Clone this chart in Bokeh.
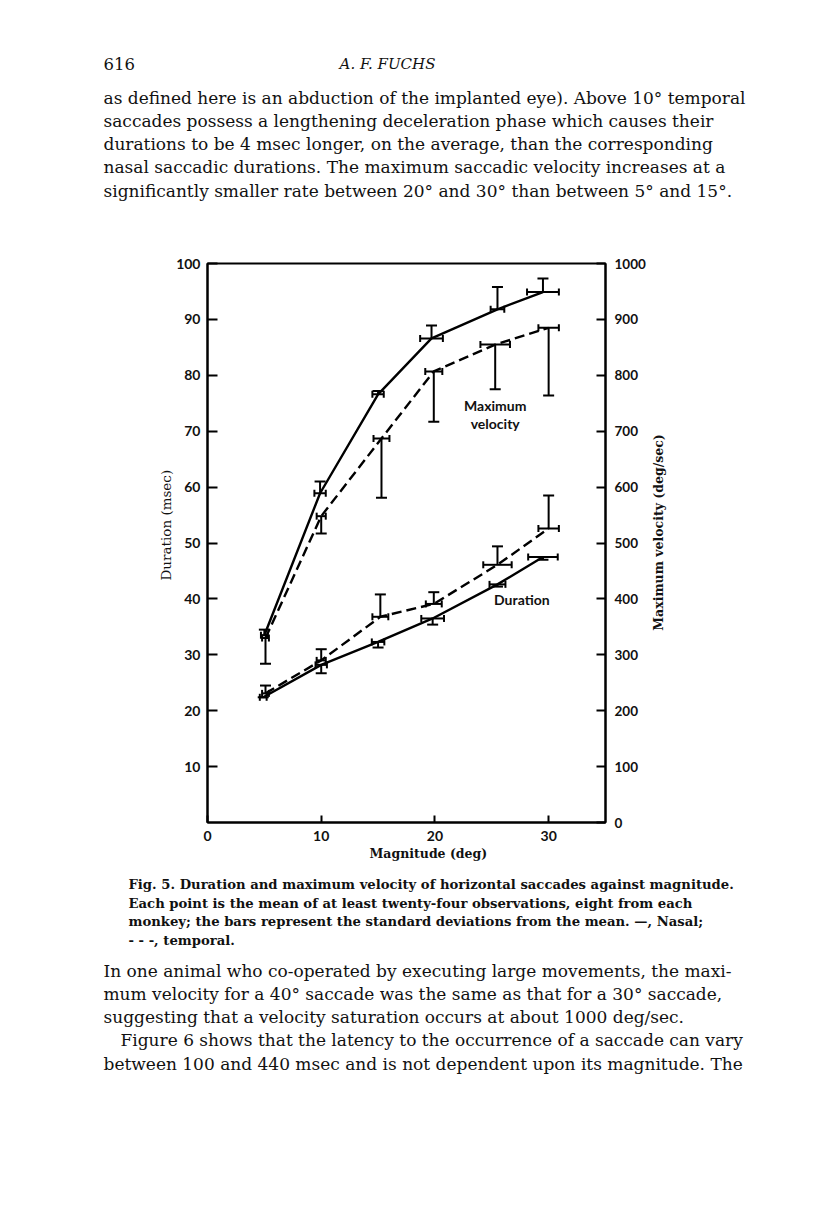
import math
from bokeh.plotting import figure
from bokeh.models import LinearAxis, Range1d, FixedTicker, Title, ColumnDataSource
from bokeh.layouts import column, row
from bokeh.core.properties import value
from bokeh.embed import file_html
from bokeh.resources import INLINE

# ---------------- data ----------------
# Maximum velocity (deg/sec): nasal (solid) and temporal (dashed)
vel_nasal_x = [5.0, 9.9, 15.0, 19.7, 25.5, 29.5]
vel_nasal = [335, 589, 766, 866, 918, 949]
vel_nasal_sd_end = [345, 610, 772, 889, 958, 973]
vel_nasal_xsd = [0.3, 0.5, 0.5, 1.0, 0.6, 1.4]

vel_temp_x = [5.1, 10.0, 15.3, 19.9, 25.3, 30.0]
vel_temp = [330, 548, 687, 807, 855, 885]
vel_temp_sd_end = [284, 517, 581, 717, 775, 764]
vel_temp_xsd = [0.3, 0.4, 0.7, 0.75, 1.3, 0.9]

# Duration (msec): nasal (solid) and temporal (dashed)
dur_nasal_x = [4.9, 10.0, 15.0, 19.8, 25.5, 29.5]
dur_nasal = [22.4, 28.2, 32.3, 36.5, 42.6, 47.5]
dur_nasal_sd_end = [22.4, 26.7, 31.3, 35.4, 42.2, 47.0]
dur_nasal_xsd = [0.3, 0.5, 0.55, 1.0, 0.7, 1.3]

dur_temp_x = [5.1, 10.0, 15.2, 19.9, 25.5, 30.0]
dur_temp = [23.1, 29.0, 36.8, 39.1, 46.1, 52.6]
dur_temp_sd_end = [24.5, 31.0, 40.8, 41.2, 49.4, 58.5]
dur_temp_xsd = [0.3, 0.4, 0.7, 0.7, 1.25, 0.9]

left_ticks = [10, 20, 30, 40, 50, 60, 70, 80, 90, 100]
right_ticks = [0, 100, 200, 300, 400, 500, 600, 700, 800, 900, 1000]
x_ticks = [0, 10, 20, 30]

header_page = "616"
header_author = "A. F. FUCHS"
body1 = [
    "as defined here is an abduction of the implanted eye). Above 10° temporal",
    "saccades possess a lengthening deceleration phase which causes their",
    "durations to be 4 msec longer, on the average, than the corresponding",
    "nasal saccadic durations. The maximum saccadic velocity increases at a",
    "significantly smaller rate between 20° and 30° than between 5° and 15°.",
]
caption = [
    "Fig. 5. Duration and maximum velocity of horizontal saccades against magnitude.",
    "Each point is the mean of at least twenty-four observations, eight from each",
    "monkey; the bars represent the standard deviations from the mean. —, Nasal;",
    "- - -, temporal.",
]
body2 = [
    "In one animal who co-operated by executing large movements, the maxi-",
    "mum velocity for a 40° saccade was the same as that for a 30° saccade,",
    "suggesting that a velocity saturation occurs at about 1000 deg/sec.",
    "Figure 6 shows that the latency to the occurrence of a saccade can vary",
    "between 100 and 440 msec and is not dependent upon its magnitude. The",
]

# ---------------- layout geometry (picture pixels) ----------------
W = 816
TOP_H = 240
CHART_TOP, CHART_BOT = 240, 872
CHART_W = 648
BOT_H = 1213 - CHART_BOT
FL, FT, FR, FB = 207, 263, 606, 822
SERIF = "DejaVu Serif"
SANS = "Lato"
INK = "#111111"


def text_panel(width, height, x0, y0):
    f = figure(width=width, height=height, x_range=Range1d(x0, x0 + width),
               y_range=Range1d(y0 + height, y0),
               output_backend="svg", toolbar_location=None, min_border=0,
               x_axis_type=None, y_axis_type=None)
    f.xgrid.visible = False
    f.ygrid.visible = False
    f.outline_line_color = None
    f.background_fill_color = "white"
    f.border_fill_color = "white"
    return f


def put_lines(f, lines, x0, y_first, step, size, style="normal", align="left",
              indent=None, angle=0.0):
    xs, ys = [], []
    for i, t in enumerate(lines):
        xs.append(indent(t) if indent else x0)
        ys.append(y_first + i * step)
    src = ColumnDataSource(dict(x=xs, y=ys, t=lines))
    f.text(x="x", y="y", text="t", source=src, text_font=value(SERIF),
           text_font_size=f"{size}px", text_font_style=style, text_align=align,
           text_baseline="middle", text_color=INK, angle=angle)


# ---- header and first paragraph ----
top = text_panel(W, TOP_H, 0, 0)
put_lines(top, [header_page], 103, 63, 0, 16.5)
put_lines(top, [header_author], 387, 63, 0, 15, style="italic", align="center")
put_lines(top, body1, 103, 97, 23.3, 17)

# ---- chart ----
CH = CHART_BOT - CHART_TOP
p = figure(width=CHART_W, height=CH, x_range=Range1d(0, 35), y_range=Range1d(0, 100),
           output_backend="svg", toolbar_location=None,
           min_border_left=FL, min_border_right=CHART_W - FR,
           min_border_top=FT - CHART_TOP, min_border_bottom=CHART_BOT - FB)
p.extra_y_ranges = {"vel": Range1d(0, 1000)}
p.xgrid.visible = False
p.ygrid.visible = False
p.outline_line_color = "black"
p.outline_line_width = 2
p.background_fill_color = "white"
p.border_fill_color = "white"


def style_axis(ax, tick_in, standoff, size="14px"):
    ax.major_tick_in = tick_in
    ax.major_tick_out = 0
    ax.minor_tick_line_color = None
    ax.axis_line_width = 2
    ax.major_tick_line_width = 2
    ax.major_label_standoff = standoff
    ax.major_label_text_font = SANS
    ax.major_label_text_font_size = size
    ax.major_label_text_font_style = "bold"
    ax.major_label_text_color = INK


for ax in p.xaxis:
    ax.ticker = FixedTicker(ticks=x_ticks)
    style_axis(ax, 7, 8)

for ax in p.yaxis:
    ax.ticker = FixedTicker(ticks=left_ticks)
    style_axis(ax, 10, 7)

rax = LinearAxis(y_range_name="vel", ticker=FixedTicker(ticks=right_ticks))
style_axis(rax, 9, 9, "13.5px")
p.add_layout(rax, "right")

p.add_layout(Title(text="Duration (msec)", align="left", offset=242, standoff=0,
                   text_font=SERIF, text_font_size="13.5px", text_font_style="normal",
                   text_color=INK), "left")
p.add_layout(Title(text="Magnitude (deg)", align="left", offset=162, standoff=0,
                   text_font=SERIF, text_font_size="12.5px", text_font_style="bold",
                   text_color=INK), "below")

LW = 2.4
DASH = "10 5"


def series(xs, ys, sd_end, xsd, dashed, rng):
    kw = {} if rng is None else {"y_range_name": rng}
    if dashed:
        p.line(xs, ys, line_color="black", line_width=LW, line_dash=DASH, **kw)
    else:
        p.line(xs, ys, line_color="black", line_width=LW, **kw)
    # one-sided vertical SD bar with cap
    p.segment(x0=xs, y0=ys, x1=xs, y1=sd_end, line_color="black", line_width=2, **kw)
    p.scatter(xs, sd_end, marker="dash", size=11, line_color="black", line_width=2, **kw)
    # horizontal SD bar with end caps
    xl = [a - b for a, b in zip(xs, xsd)]
    xr = [a + b for a, b in zip(xs, xsd)]
    p.segment(x0=xl, y0=ys, x1=xr, y1=ys, line_color="black", line_width=2, **kw)
    p.scatter(xl + xr, ys + ys, marker="dash", size=7, angle=math.pi / 2,
              line_color="black", line_width=2, **kw)


series(vel_nasal_x, vel_nasal, vel_nasal_sd_end, vel_nasal_xsd, False, "vel")
series(vel_temp_x, vel_temp, vel_temp_sd_end, vel_temp_xsd, True, "vel")
series(dur_nasal_x, dur_nasal, dur_nasal_sd_end, dur_nasal_xsd, False, None)
series(dur_temp_x, dur_temp, dur_temp_sd_end, dur_temp_xsd, True, None)

p.text(x=[25.3, 25.3], y=[74.6, 71.4], text=["Maximum", "velocity"],
       text_font=value(SANS), text_font_size="14px", text_font_style="bold",
       text_align="center", text_baseline="middle", text_color=INK)
p.text(x=[25.2], y=[39.9], text=["Duration"],
       text_font=value(SANS), text_font_size="14px", text_font_style="bold",
       text_align="left", text_baseline="middle", text_color=INK)

# ---- right-hand axis title panel ----
rp = text_panel(W - CHART_W, CH, CHART_W, CHART_TOP)
put_lines(rp, ["Maximum velocity (deg/sec)"], 658, 532, 0, 12.5, style="bold",
          align="center", angle=math.pi / 2)

# ---- caption and following paragraph ----
bot = text_panel(W, BOT_H, 0, CHART_BOT)
put_lines(bot, caption, 128, 884, 18.7, 13.2, style="bold")
put_lines(bot, body2, 103, 970, 23.3, 17,
          indent=lambda t: 120 if t.startswith("Figure") else 103)

layout = column(top, row(column(p), column(rp), spacing=0), row(bot), spacing=0)
open("out.html", "w").write(file_html(layout, INLINE))
